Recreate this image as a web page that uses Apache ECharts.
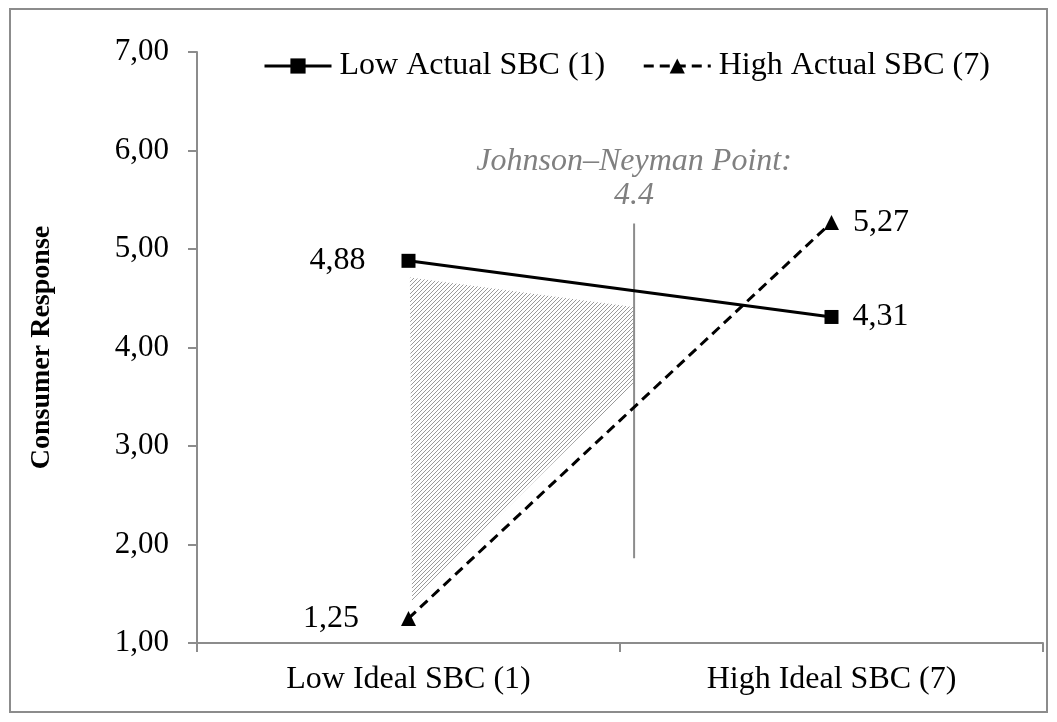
<!DOCTYPE html>
<html>
<head>
<meta charset="utf-8">
<script src="https://cdn.jsdelivr.net/npm/echarts@6/dist/echarts.min.js"></script>
<style>html,body{margin:0;padding:0;background:#fff}#c{width:1057px;height:722px}</style>
</head>
<body>
<div id="c"></div>
<script>
const categories = ['Low Ideal SBC (1)', 'High Ideal SBC (7)'];
const seriesNames = ['Low Actual SBC (1)', 'High Actual SBC (7)'];
const lowActual = [4.88, 4.31];
const highActual = [1.25, 5.27];
const yTicks = [1, 2, 3, 4, 5, 6, 7];
const jnLabel = 'Johnson–Neyman Point:\n4.4';
const jnX = 4.2;
const jnY = [1.86, 5.26];
const hatchX = [1.02, 4.19, 4.19, 1.05];
const hatchY = [4.71, 4.41, 3.63, 1.42];

const FONT = '"Liberation Serif", "Times New Roman", serif';
const FS = 32;
const fmt = v => Number(v).toFixed(2).replace('.', ',');

function makeHatch() {
  const c = document.createElement('canvas');
  c.width = 4; c.height = 4;
  const g = c.getContext('2d');
  g.strokeStyle = '#9a9a9a';
  g.lineWidth = 1;
  g.beginPath();
  g.moveTo(-1, 5); g.lineTo(5, -1);
  g.moveTo(-1, 1); g.lineTo(1, -1);
  g.moveTo(3, 5); g.lineTo(5, 3);
  g.stroke();
  return c;
}
const hatch = makeHatch();

const chart = echarts.init(document.getElementById('c'), null, {renderer: 'canvas'});
chart.setOption({
  animation: false,
  backgroundColor: '#fff',
  textStyle: {fontFamily: FONT},
  graphic: [{
    type: 'rect', shape: {x: 10, y: 9, width: 1037, height: 703},
    style: {fill: 'none', stroke: '#8c8c8c', lineWidth: 2}, z: -10
  }],
  grid: {left: 197, right: 14, top: 52, bottom: 79},
  legend: {
    left: 258, top: 45, itemWidth: 67, itemHeight: 19, itemGap: 37,
    data: seriesNames,
    lineStyle: {width: 3},
    textStyle: {fontFamily: FONT, fontSize: FS, color: '#000', padding: [0, 0, 0, 3]}
  },
  xAxis: [{
    type: 'category', data: categories, boundaryGap: true,
    axisLine: {onZero: false, lineStyle: {color: '#8c8c8c', width: 2}},
    axisTick: {show: true, length: 9, interval: 0, lineStyle: {color: '#8c8c8c', width: 2}},
    axisLabel: {fontFamily: FONT, fontSize: FS, color: '#000', margin: 21, interval: 0}
  }, {
    type: 'value', min: -2, max: 10, show: false,
    axisLine: {onZero: false}
  }],
  yAxis: {
    type: 'value', min: yTicks[0], max: yTicks[yTicks.length - 1], interval: 1,
    name: 'Consumer Response', nameLocation: 'middle', nameGap: 141,
    nameTextStyle: {fontFamily: FONT, fontSize: 28, fontWeight: 'bold', color: '#000'},
    splitLine: {show: false},
    axisLine: {show: true, onZero: false, lineStyle: {color: '#8c8c8c', width: 2}},
    axisTick: {show: true, length: 9, lineStyle: {color: '#8c8c8c', width: 2}},
    axisLabel: {fontFamily: FONT, fontSize: 31, color: '#000', margin: 28, formatter: fmt}
  },
  series: [{
    type: 'custom', xAxisIndex: 1, silent: true, z: 1,
    data: hatchX.map((x, i) => [x, hatchY[i]]),
    renderItem: function (params, api) {
      if (params.dataIndex !== 0) return null;
      const pts = hatchX.map((x, i) => api.coord([x, hatchY[i]]));
      return {type: 'polygon', shape: {points: pts},
        style: {fill: {image: hatch, repeat: 'repeat'}, stroke: null}};
    }
  }, {
    type: 'line', xAxisIndex: 1, silent: true, z: 2,
    data: [[jnX, jnY[0]], [jnX, jnY[1]]],
    symbol: 'none',
    lineStyle: {color: '#8c8c8c', width: 2},
    label: {show: false},
    markPoint: {
      symbol: 'circle', symbolSize: 0,
      data: [{coord: [jnX, jnY[1]], value: jnLabel}],
      label: {show: true, position: 'top', distance: 11, formatter: jnLabel,
        fontFamily: FONT, fontSize: FS, fontStyle: 'italic', color: '#808080', lineHeight: 34, align: 'center'}
    }
  }, {
    name: seriesNames[0], type: 'line', z: 5,
    symbol: 'rect', symbolSize: 14,
    itemStyle: {color: '#000'},
    lineStyle: {color: '#000', width: 3, type: 'solid'},
    label: {show: true, fontFamily: FONT, fontSize: FS, color: '#000', formatter: p => fmt(p.value)},
    data: lowActual.map((v, i) => ({value: v, label: {position: i === 0 ? 'left' : 'right', distance: i === 0 ? 36 : 14}}))
  }, {
    name: seriesNames[1], type: 'line', z: 5,
    symbol: 'triangle', symbolSize: 15,
    itemStyle: {color: '#000'},
    lineStyle: {color: '#000', width: 3, type: [10, 6]},
    label: {show: true, fontFamily: FONT, fontSize: FS, color: '#000', formatter: p => fmt(p.value)},
    data: highActual.map((v, i) => ({value: v, label: {position: i === 0 ? 'left' : 'right', distance: i === 0 ? 42 : 14}}))
  }]
});
</script>
</body>
</html>
